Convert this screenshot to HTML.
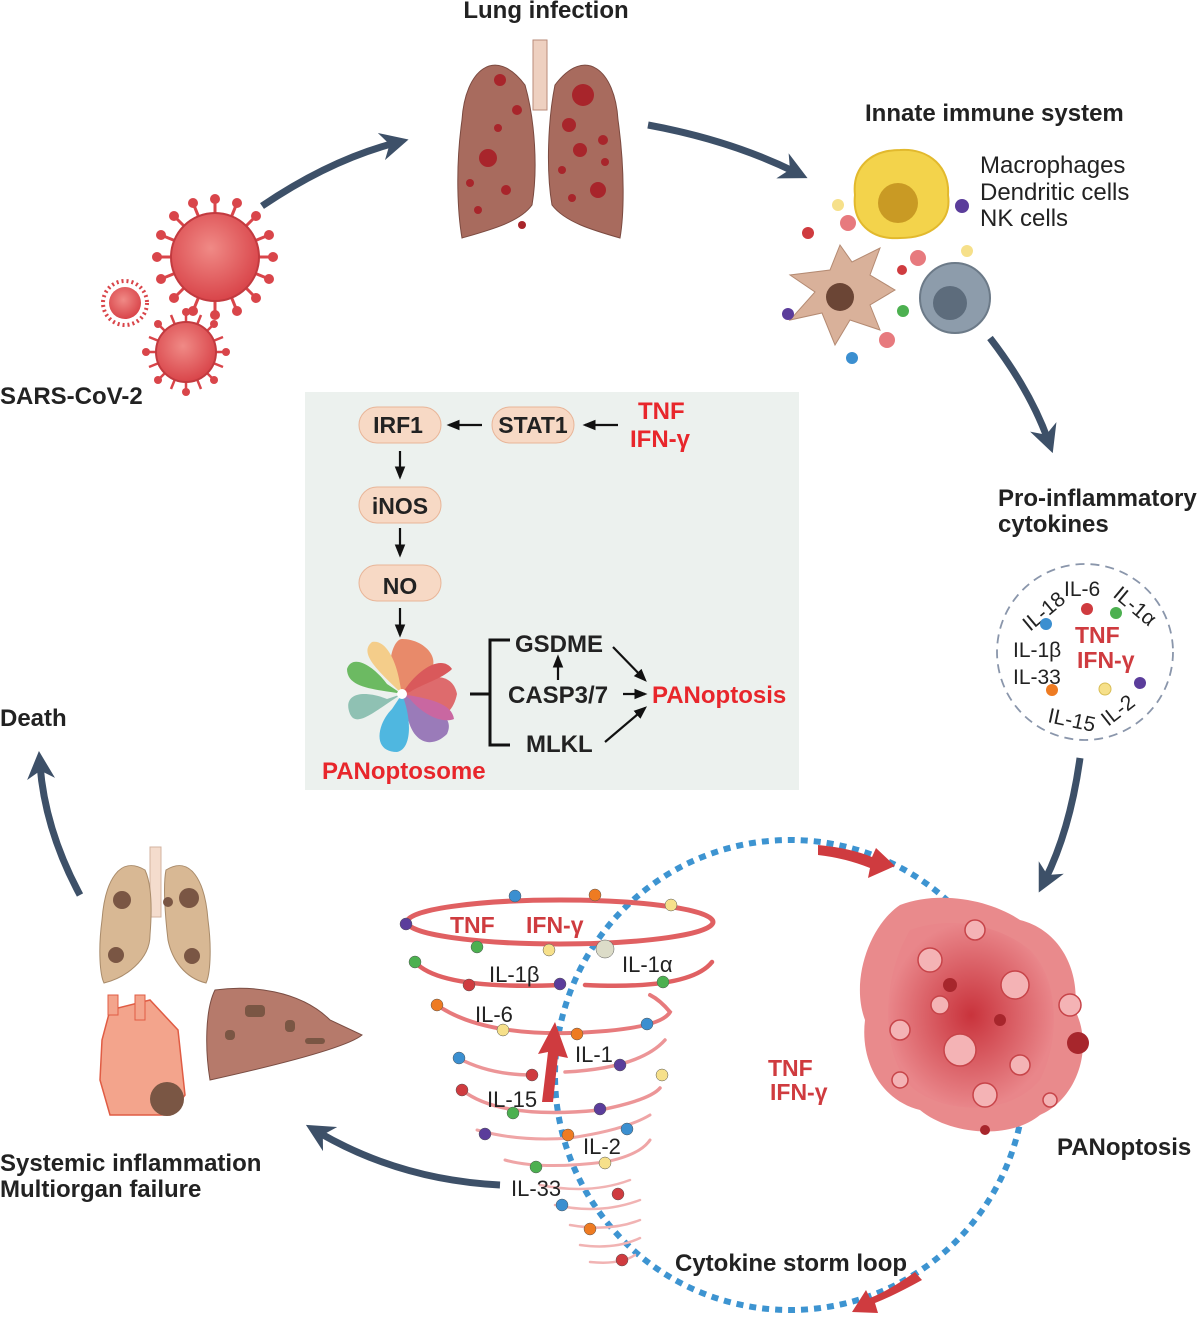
<!DOCTYPE html>
<html><head><meta charset="utf-8"><style>
html,body{margin:0;padding:0;background:#fff;}
svg{display:block;}
text{font-family:"Liberation Sans",Arial,sans-serif;}
.b{font-weight:bold;font-size:24px;fill:#222;}
.r{font-size:24px;fill:#222;}
.red{font-weight:bold;fill:#e8262b;font-size:24px;}
.rd{font-weight:bold;fill:#cf3b3f;font-size:23px;}
</style></head><body>
<svg width="1200" height="1324" viewBox="0 0 1200 1324" xmlns="http://www.w3.org/2000/svg">
<defs>
<marker id="ah" viewBox="0 0 10 10" refX="5" refY="5" markerWidth="4" markerHeight="4" orient="auto"><path d="M0,0 L10,5 L0,10 L3,5z" fill="#3d5068"/></marker>
<marker id="ak" viewBox="0 0 10 10" refX="8" refY="5" markerWidth="6" markerHeight="6" orient="auto"><path d="M0,1 L10,5 L0,9z" fill="#111"/></marker>
<radialGradient id="vg" cx="0.45" cy="0.4" r="0.6"><stop offset="0" stop-color="#f08a86"/><stop offset="1" stop-color="#d9454a"/></radialGradient>
<radialGradient id="pg" cx="0.5" cy="0.5" r="0.5"><stop offset="0" stop-color="#c9333c"/><stop offset="1" stop-color="#e9868a"/></radialGradient>
</defs>

<!-- Titles -->
<text class="b" x="546" y="18" text-anchor="middle">Lung infection</text>
<text class="b" x="865" y="121">Innate immune system</text>
<text class="r" x="980" y="173">Macrophages</text>
<text class="r" x="980" y="200">Dendritic cells</text>
<text class="r" x="980" y="226">NK cells</text>
<text class="b" x="0" y="404">SARS-CoV-2</text>
<text class="b" x="998" y="506">Pro-inflammatory</text>
<text class="b" x="998" y="532">cytokines</text>
<text class="b" x="0" y="726">Death</text>
<text class="b" x="1057" y="1155">PANoptosis</text>
<text class="b" x="0" y="1171">Systemic inflammation</text>
<text class="b" x="0" y="1197">Multiorgan failure</text>
<text class="b" x="675" y="1271">Cytokine storm loop</text>

<!-- Big arrows -->
<g fill="none" stroke="#3d5068" stroke-width="7" stroke-linecap="butt">
<path d="M262,206 Q330,160 395,143" marker-end="url(#ah)"/>
<path d="M648,125 Q730,140 795,172" marker-end="url(#ah)"/>
<path d="M990,338 Q1030,390 1048,440" marker-end="url(#ah)"/>
<path d="M1080,758 Q1070,830 1045,880" marker-end="url(#ah)"/>
<path d="M500,1185 Q400,1180 318,1132" marker-end="url(#ah)"/>
<path d="M80,895 Q45,830 40,765" marker-end="url(#ah)"/>
</g>

<!-- Top lungs -->
<g>
<rect x="533" y="40" width="14" height="70" fill="#eed0c0" stroke="#b98b7a"/>
<path d="M525,85 C495,45 465,70 462,120 C455,170 458,215 462,238 C490,230 520,222 532,205 C538,170 535,120 525,85z" fill="#a86b5e" stroke="#7b4a40"/>
<path d="M555,85 C585,45 615,70 618,120 C625,170 624,215 620,238 C592,230 565,222 552,205 C546,170 548,120 555,85z" fill="#a86b5e" stroke="#7b4a40"/>
<g fill="#a8252b">
<circle cx="500" cy="80" r="6"/><circle cx="517" cy="110" r="5"/><circle cx="498" cy="128" r="4"/><circle cx="488" cy="158" r="9"/>
<circle cx="470" cy="183" r="4"/><circle cx="506" cy="190" r="5"/><circle cx="478" cy="210" r="4"/><circle cx="522" cy="225" r="4"/>
<circle cx="583" cy="95" r="11"/><circle cx="569" cy="125" r="7"/><circle cx="603" cy="140" r="5"/><circle cx="580" cy="150" r="7"/>
<circle cx="562" cy="170" r="4"/><circle cx="598" cy="190" r="8"/><circle cx="605" cy="162" r="4"/><circle cx="572" cy="198" r="4"/>
</g>
</g>

<!-- Viruses -->
<g fill="#d9454a">
<g transform="translate(215,257)">
<g stroke="#d9454a" stroke-width="3">
<line x1="0" y1="-58" x2="0" y2="58"/><line x1="-58" y1="0" x2="58" y2="0"/><line x1="-41" y1="-41" x2="41" y2="41"/><line x1="-41" y1="41" x2="41" y2="-41"/>
<line x1="-22" y1="-54" x2="22" y2="54"/><line x1="22" y1="-54" x2="-22" y2="54"/><line x1="-54" y1="-22" x2="54" y2="22"/><line x1="-54" y1="22" x2="54" y2="-22"/>
</g>
<circle r="44" fill="url(#vg)" stroke="#c23a3f" stroke-width="2"/>
<circle cx="0" cy="-58" r="5"/><circle cx="0" cy="58" r="5"/><circle cx="-58" cy="0" r="5"/><circle cx="58" cy="0" r="5"/>
<circle cx="-41" cy="-41" r="5"/><circle cx="41" cy="41" r="5"/><circle cx="-41" cy="41" r="5"/><circle cx="41" cy="-41" r="5"/>
<circle cx="-22" cy="-54" r="5"/><circle cx="22" cy="54" r="5"/><circle cx="22" cy="-54" r="5"/><circle cx="-22" cy="54" r="5"/>
<circle cx="-54" cy="-22" r="5"/><circle cx="54" cy="22" r="5"/><circle cx="-54" cy="22" r="5"/><circle cx="54" cy="-22" r="5"/>
</g>
<g transform="translate(186,352)">
<g stroke="#d9454a" stroke-width="2.5">
<line x1="0" y1="-40" x2="0" y2="40"/><line x1="-40" y1="0" x2="40" y2="0"/><line x1="-28" y1="-28" x2="28" y2="28"/><line x1="-28" y1="28" x2="28" y2="-28"/>
<line x1="-15" y1="-37" x2="15" y2="37"/><line x1="15" y1="-37" x2="-15" y2="37"/><line x1="-37" y1="-15" x2="37" y2="15"/><line x1="-37" y1="15" x2="37" y2="-15"/>
</g>
<circle r="30" fill="url(#vg)" stroke="#c23a3f" stroke-width="2"/>
<circle cx="0" cy="-40" r="4"/><circle cx="0" cy="40" r="4"/><circle cx="-40" cy="0" r="4"/><circle cx="40" cy="0" r="4"/>
<circle cx="-28" cy="-28" r="4"/><circle cx="28" cy="28" r="4"/><circle cx="-28" cy="28" r="4"/><circle cx="28" cy="-28" r="4"/>
</g>
<g transform="translate(125,303)">
<circle r="22" fill="none" stroke="#d9454a" stroke-width="4" stroke-dasharray="2 3"/>
<circle r="16" fill="url(#vg)"/>
</g>
</g>

<!-- Immune cells -->
<g>
<path d="M900,150 C930,148 950,168 948,195 C952,222 930,238 900,238 C870,240 852,222 855,195 C852,168 870,150 900,150z" fill="#f3d34b" stroke="#e2b92d" stroke-width="2"/>
<circle cx="898" cy="203" r="20" fill="#c99a24"/>
<path d="M840,245 L830,270 L790,275 L815,292 L790,320 L822,313 L835,345 L850,320 L880,330 L870,305 L895,290 L870,275 L880,248 L852,262z" fill="#d9b19a" stroke="#b48a72"/>
<circle cx="840" cy="297" r="14" fill="#6b4535"/>
<circle cx="955" cy="298" r="35" fill="#8d9cab" stroke="#6c7a88" stroke-width="2"/>
<circle cx="950" cy="303" r="17" fill="#5d6c7c"/>
<circle cx="838" cy="205" r="6" fill="#f6e08a"/><circle cx="962" cy="206" r="7" fill="#5b3d9b"/>
<circle cx="808" cy="233" r="6" fill="#cf3b3f"/><circle cx="848" cy="223" r="8" fill="#e77a7e"/>
<circle cx="902" cy="270" r="5" fill="#cf3b3f"/><circle cx="918" cy="258" r="8" fill="#e77a7e"/>
<circle cx="967" cy="251" r="6" fill="#f6e08a"/><circle cx="903" cy="311" r="6" fill="#4cb050"/>
<circle cx="788" cy="314" r="6" fill="#5b3d9b"/><circle cx="852" cy="358" r="6" fill="#3b8fd0"/><circle cx="887" cy="340" r="8" fill="#e77a7e"/>
</g>

<!-- Cytokine circle -->
<circle cx="1085" cy="652" r="88" fill="none" stroke="#8a96ab" stroke-width="1.8" stroke-dasharray="9 6"/>
<g font-size="21" fill="#222" font-family="Liberation Sans">
<text x="1064" y="596">IL-6</text>
<text x="1030" y="632" transform="rotate(-40 1030 632)">IL-18</text>
<text x="1112" y="596" transform="rotate(40 1112 596)">IL-1α</text>
<text x="1013" y="657">IL-1β</text>
<text x="1013" y="684">IL-33</text>
<text x="1047" y="722" transform="rotate(12 1047 722)">IL-15</text>
<text x="1108" y="727" transform="rotate(-38 1108 727)">IL-2</text>
</g>
<text class="rd" x="1075" y="643" font-size="21">TNF</text>
<text class="rd" x="1077" y="668" font-size="21">IFN-γ</text>
<circle cx="1087" cy="609" r="6" fill="#cf3b3f"/><circle cx="1116" cy="613" r="6" fill="#4cb050"/>
<circle cx="1046" cy="624" r="6" fill="#3b8fd0"/><circle cx="1052" cy="690" r="6" fill="#ee7b22"/>
<circle cx="1105" cy="689" r="6" fill="#f6e08a" stroke="#d8bd55"/><circle cx="1140" cy="683" r="6" fill="#5b3d9b"/>

<!-- Center box -->
<rect x="305" y="392" width="494" height="398" fill="#ecf1ee"/>
<g font-weight="bold" font-size="23" fill="#222">
<rect x="359" y="407" width="82" height="36" rx="18" fill="#f7d9c5" stroke="#e8b598"/>
<text x="398" y="433" text-anchor="middle">IRF1</text>
<rect x="492" y="407" width="82" height="36" rx="18" fill="#f7d9c5" stroke="#e8b598"/>
<text x="533" y="433" text-anchor="middle">STAT1</text>
<rect x="359" y="487" width="82" height="36" rx="18" fill="#f7d9c5" stroke="#e8b598"/>
<text x="400" y="514" text-anchor="middle">iNOS</text>
<rect x="359" y="565" width="82" height="36" rx="18" fill="#f7d9c5" stroke="#e8b598"/>
<text x="400" y="594" text-anchor="middle">NO</text>
</g>
<g font-weight="bold" font-size="24" fill="#222">
<text x="515" y="652">GSDME</text>
<text x="508" y="703">CASP3/7</text>
<text x="526" y="752">MLKL</text>
</g>
<text class="red" x="638" y="419">TNF</text>
<text class="red" x="630" y="447">IFN-γ</text>
<text class="red" x="652" y="703">PANoptosis</text>
<text class="red" x="322" y="779">PANoptosome</text>
<g stroke="#111" stroke-width="2.2" fill="none">
<line x1="482" y1="425" x2="449" y2="425" marker-end="url(#ak)"/>
<line x1="618" y1="425" x2="585" y2="425" marker-end="url(#ak)"/>
<line x1="400" y1="451" x2="400" y2="477" marker-end="url(#ak)"/>
<line x1="400" y1="528" x2="400" y2="555" marker-end="url(#ak)"/>
<line x1="400" y1="608" x2="400" y2="635" marker-end="url(#ak)"/>
<line x1="558" y1="680" x2="558" y2="657" marker-end="url(#ak)"/>
<line x1="613" y1="647" x2="645" y2="680" marker-end="url(#ak)"/>
<line x1="623" y1="694" x2="645" y2="694" marker-end="url(#ak)"/>
<line x1="605" y1="742" x2="645" y2="708" marker-end="url(#ak)"/>
<path d="M510,640 L490,640 L490,745 L510,745 M470,694 L490,694" stroke-width="3"/>
</g>
<!-- PANoptosome flower -->
<g transform="translate(402,694)">
<path d="M0,0 C-20,-20 -10,-55 0,-55 C25,-55 45,-30 20,-15z" fill="#e88a6a"/>
<path d="M0,0 C20,-20 50,-25 55,0 C50,25 30,30 15,15z" fill="#de6b6d"/>
<path d="M0,0 C25,10 55,20 45,40 C30,55 10,50 5,20z" fill="#9a7bb9"/>
<path d="M0,0 C10,25 10,55 -5,58 C-30,58 -25,30 -10,15z" fill="#4fb7e0"/>
<path d="M0,0 C-25,15 -45,35 -52,20 C-60,0 -40,-5 -15,5z" fill="#8fc1b3"/>
<path d="M0,0 C-25,-5 -55,-5 -55,-25 C-50,-40 -30,-30 -15,-10z" fill="#6cba62"/>
<path d="M0,0 C-20,-20 -45,-40 -30,-52 C-15,-55 -5,-30 -2,-10z" fill="#f4cd8a"/>
<path d="M0,0 C15,-25 40,-40 50,-25 C40,-15 20,-10 8,-2z" fill="#d9595b"/>
<path d="M0,0 C30,5 50,10 52,25 C40,30 20,20 8,5z" fill="#c967a1"/>
<circle r="5" fill="#fff"/>
</g>

<!-- Dotted loop -->
<circle cx="790" cy="1075" r="235" fill="none" stroke="#3d94d1" stroke-width="6" stroke-dasharray="7 6"/>
<g fill="#cf3b3f">
<path d="M818,845 Q850,848 872,857 L876,848 L895,866 L868,878 L870,868 Q845,858 818,855z"/>
<path d="M922,1280 Q895,1295 875,1303 L878,1313 L852,1312 L866,1290 L870,1298 Q890,1290 915,1272z"/>
</g>
<text class="rd" x="768" y="1076">TNF</text>
<text class="rd" x="770" y="1100">IFN-γ</text>

<!-- Tornado -->
<g fill="none" stroke-linecap="round">
<ellipse cx="560" cy="922" rx="153" ry="22" stroke="#e06062" stroke-width="5"/>
<path d="M415,962 Q440,990 560,985 M585,985 Q690,990 712,962" stroke="#e06062" stroke-width="4.5"/>
<path d="M437,1005 Q480,1035 570,1033 Q660,1030 670,1012 Q660,1000 650,995" stroke="#e77a7c" stroke-width="4"/>
<path d="M458,1058 Q490,1075 532,1075 M565,1072 Q640,1068 665,1040" stroke="#ec9597" stroke-width="3.5"/>
<path d="M462,1090 Q500,1120 600,1110 Q650,1100 660,1088" stroke="#ec9597" stroke-width="3.5"/>
<path d="M477,1130 Q520,1142 570,1138 Q625,1130 650,1115" stroke="#efa5a6" stroke-width="3"/>
<path d="M505,1160 Q540,1170 605,1162 Q640,1155 650,1140" stroke="#efa5a6" stroke-width="3"/>
<path d="M540,1185 Q590,1195 630,1180 M555,1205 Q600,1215 640,1200 M570,1225 Q610,1232 640,1220 M580,1245 Q615,1250 640,1238 M590,1262 Q620,1265 635,1255" stroke="#f1b3b3" stroke-width="2.5"/>
</g>
<path d="M542,1102 L548,1052 L538,1054 L555,1022 L568,1058 L558,1056 L553,1102z" fill="#cf3b3f"/>
<text class="rd" x="450" y="933">TNF</text>
<text class="rd" x="526" y="933">IFN-γ</text>
<g font-size="22" fill="#222">
<text x="489" y="982">IL-1β</text>
<text x="622" y="972">IL-1α</text>
<text x="475" y="1022">IL-6</text>
<text x="575" y="1062">IL-1</text>
<text x="487" y="1107">IL-15</text>
<text x="583" y="1154">IL-2</text>
<text x="511" y="1196">IL-33</text>
</g>
<g stroke="#555" stroke-width="0.5">
<circle cx="515" cy="896" r="6" fill="#3b8fd0"/><circle cx="595" cy="895" r="6" fill="#ee7b22"/><circle cx="671" cy="905" r="6" fill="#f6e08a"/>
<circle cx="406" cy="924" r="6" fill="#5b3d9b"/><circle cx="477" cy="947" r="6" fill="#4cb050"/><circle cx="549" cy="950" r="6" fill="#f6e08a"/>
<circle cx="605" cy="949" r="9" fill="#dcdcc8"/><circle cx="415" cy="962" r="6" fill="#4cb050"/><circle cx="469" cy="985" r="6" fill="#cf3b3f"/>
<circle cx="560" cy="984" r="6" fill="#5b3d9b"/><circle cx="663" cy="982" r="6" fill="#4cb050"/><circle cx="437" cy="1005" r="6" fill="#ee7b22"/>
<circle cx="503" cy="1030" r="6" fill="#f6e08a"/><circle cx="577" cy="1034" r="6" fill="#ee7b22"/><circle cx="647" cy="1024" r="6" fill="#3b8fd0"/>
<circle cx="459" cy="1058" r="6" fill="#3b8fd0"/><circle cx="532" cy="1075" r="6" fill="#cf3b3f"/><circle cx="620" cy="1065" r="6" fill="#5b3d9b"/>
<circle cx="662" cy="1075" r="6" fill="#f6e08a"/><circle cx="462" cy="1090" r="6" fill="#cf3b3f"/><circle cx="513" cy="1113" r="6" fill="#4cb050"/>
<circle cx="600" cy="1109" r="6" fill="#5b3d9b"/><circle cx="485" cy="1134" r="6" fill="#5b3d9b"/><circle cx="568" cy="1135" r="6" fill="#ee7b22"/>
<circle cx="627" cy="1129" r="6" fill="#3b8fd0"/><circle cx="536" cy="1167" r="6" fill="#4cb050"/><circle cx="605" cy="1163" r="6" fill="#f6e08a"/>
<circle cx="618" cy="1194" r="6" fill="#cf3b3f"/><circle cx="562" cy="1205" r="6" fill="#3b8fd0"/><circle cx="590" cy="1229" r="6" fill="#ee7b22"/>
<circle cx="622" cy="1260" r="6" fill="#cf3b3f"/>
</g>

<!-- PANoptosis blob -->
<g>
<path d="M900,905 C940,890 990,900 1020,920 C1060,930 1080,970 1075,1010 C1095,1050 1075,1100 1040,1115 C1010,1140 950,1135 920,1110 C880,1100 860,1060 865,1020 C850,980 870,925 900,905z" fill="#e98a8c"/>
<path d="M910,930 C950,915 1000,925 1030,950 C1060,980 1060,1040 1040,1080 C1010,1115 950,1115 915,1090 C880,1060 880,980 910,930z" fill="url(#pg)"/>
<g fill="#f4b3b5" stroke="#c74449" stroke-width="1.5">
<circle cx="930" cy="960" r="12"/><circle cx="975" cy="930" r="10"/><circle cx="1015" cy="985" r="14"/><circle cx="900" cy="1030" r="10"/>
<circle cx="960" cy="1050" r="16"/><circle cx="1020" cy="1065" r="10"/><circle cx="1070" cy="1005" r="11"/><circle cx="985" cy="1095" r="12"/>
<circle cx="940" cy="1005" r="9"/><circle cx="1050" cy="1100" r="7"/><circle cx="900" cy="1080" r="8"/>
</g>
<g fill="#a7262c"><circle cx="1078" cy="1043" r="11"/><circle cx="950" cy="985" r="7"/><circle cx="1000" cy="1020" r="6"/><circle cx="985" cy="1130" r="5"/></g>
</g>

<!-- Organs -->
<g>
<rect x="150" y="847" width="11" height="70" fill="#f4dccd" stroke="#d3b3a0"/>
<path d="M145,870 C120,855 105,880 102,920 C98,950 100,975 104,983 C125,978 150,960 150,935 C152,910 152,885 145,870z" fill="#d8b894" stroke="#a98b6a"/>
<path d="M166,870 C190,855 205,880 208,920 C212,950 210,975 206,983 C185,978 172,960 168,940 C165,915 163,885 166,870z" fill="#d8b894" stroke="#a98b6a"/>
<g fill="#7a5644"><circle cx="122" cy="900" r="9"/><circle cx="189" cy="898" r="10"/><circle cx="116" cy="955" r="8"/><circle cx="192" cy="956" r="8"/><circle cx="168" cy="902" r="5"/></g>
<path d="M110,1010 L150,1000 L178,1030 L185,1095 L170,1115 L110,1115 L100,1080 L102,1040z" fill="#f3a48c" stroke="#e05c44" stroke-width="1.5"/>
<rect x="108" y="995" width="10" height="20" fill="#f3a48c" stroke="#e05c44"/><rect x="135" y="995" width="10" height="25" fill="#f3a48c" stroke="#e05c44"/>
<circle cx="167" cy="1099" r="17" fill="#7a5644"/>
<path d="M215,990 C250,985 300,990 330,1020 L362,1035 C350,1045 300,1060 210,1080 C205,1050 205,1010 215,990z" fill="#b67a6b" stroke="#7a4d43"/>
<g fill="#7a5644"><rect x="245" y="1005" width="20" height="12" rx="4"/><rect x="225" y="1030" width="10" height="10" rx="4"/><rect x="305" y="1038" width="20" height="6" rx="3"/><rect x="285" y="1020" width="10" height="12" rx="4"/></g>
</g>
</svg>
</body></html>
